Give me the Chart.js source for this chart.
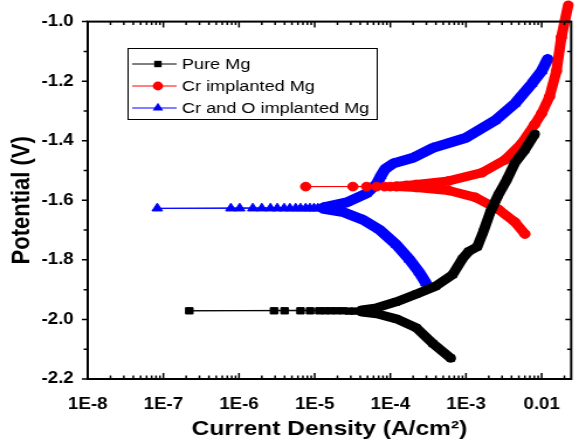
<!DOCTYPE html>
<html>
<head>
<meta charset="utf-8">
<script src="https://cdn.jsdelivr.net/npm/chart.js@4.4.0/dist/chart.umd.min.js"></script>
<style>
  html, body { margin: 0; padding: 0; background: #fff; overflow: hidden; }
  /* the source figure is stretched sideways, so the whole canvas is too */
  #wrap { width: 495px; height: 445px; transform: scaleX(1.1697); transform-origin: 0 0; }
</style>
</head>
<body>
<div id="wrap"><canvas id="tafel" width="495" height="445"></canvas></div>
<script>
// axis ticks
const decadeTicks = [1e-8, 1e-7, 1e-6, 1e-5, 1e-4, 1e-3, 1e-2];
const decadeLabels = ['1E-8', '1E-7', '1E-6', '1E-5', '1E-4', '1E-3', '0.01'];
const potentialTicks = [-2.2, -2.0, -1.8, -1.6, -1.4, -1.2, -1.0];

const seriesNames = ['Pure Mg', 'Cr implanted Mg', 'Cr and O implanted Mg'];

// Pure Mg: cathodic branch, points near Ecorr, anodic branch
const pureCathI = [6.3e-4, 3.65e-4, 2.2e-4, 1.2e-4, 6.6e-5, 4.2e-5];
const pureCathE = [-2.130, -2.081, -2.028, -1.998, -1.981, -1.975];
const pureEcorrI = [3.38e-5, 2.83e-5, 2.36e-5, 1.97e-5, 1.64e-5, 1.37e-5, 1.15e-5, 8.7e-6, 6.5e-6, 4.0e-6, 2.9e-6, 2.2e-7];
const pureEcorrE = [-1.972, -1.972, -1.971, -1.971, -1.971, -1.971, -1.971, -1.971, -1.971, -1.971, -1.971, -1.971];
const pureAnodI = [4.2e-5, 6.6e-5, 1.2e-4, 2.2e-4, 4.0e-4, 6.7e-4, 9.0e-4, 1.08e-3, 1.41e-3, 1.69e-3, 2.09e-3, 2.66e-3, 3.48e-3, 4.44e-3, 6.0e-3, 8.1e-3];
const pureAnodE = [-1.968, -1.961, -1.941, -1.915, -1.888, -1.849, -1.796, -1.772, -1.756, -1.706, -1.640, -1.583, -1.530, -1.474, -1.431, -1.378];

// Cr implanted Mg
const crCathI = [6.0e-3, 4.44e-3, 2.66e-3, 1.33e-3, 5.9e-4, 2.2e-4, 1.2e-4];
const crCathE = [-1.713, -1.673, -1.630, -1.590, -1.567, -1.557, -1.554];
const crEcorrI = [1.0e-4, 8.4e-5, 6.6e-5, 4.85e-5, 3.2e-5, 7.6e-6];
const crEcorrE = [-1.554, -1.554, -1.554, -1.554, -1.554, -1.554];
const crAnodI = [1.2e-4, 1.62e-4, 2.2e-4, 5.9e-4, 1.64e-3, 3.28e-3, 5.48e-3, 8.1e-3, 1.0e-2, 1.27e-2, 1.57e-2, 1.82e-2, 2.25e-2];
const crAnodE = [-1.553, -1.550, -1.547, -1.535, -1.507, -1.464, -1.408, -1.345, -1.308, -1.252, -1.166, -1.053, -0.944];

// Cr and O implanted Mg
const croCathI = [2.96e-4, 2.41e-4, 1.79e-4, 1.2e-4, 7.2e-5, 4.4e-5, 2.41e-5, 1.32e-5];
const croCathE = [-1.878, -1.842, -1.799, -1.749, -1.699, -1.666, -1.640, -1.629];
const croEcorrI = [1.1e-5, 9.8e-6, 8.65e-6, 7.6e-6, 6.5e-6, 5.6e-6, 4.7e-6, 3.95e-6, 3.2e-6, 2.6e-6, 2.0e-6, 1.52e-6, 1.02e-6, 7.8e-7, 8.3e-8];
const croEcorrE = [-1.627, -1.627, -1.627, -1.627, -1.627, -1.627, -1.627, -1.627, -1.627, -1.627, -1.627, -1.627, -1.627, -1.627, -1.627];
const croAnodI = [1.32e-5, 2.66e-5, 4.85e-5, 6.6e-5, 7.5e-5, 8.6e-5, 1.1e-4, 2.0e-4, 3.65e-4, 9.8e-4, 2.43e-3, 4.44e-3, 7.4e-3, 1.0e-2, 1.2e-2];
const croAnodE = [-1.624, -1.607, -1.577, -1.545, -1.518, -1.494, -1.476, -1.457, -1.424, -1.391, -1.332, -1.275, -1.209, -1.166, -1.126];

const tickFont = { family: '"Liberation Sans", Arial, sans-serif', size: 16, weight: 'bold' };

// build one polarization curve; the dense branches are drawn as a thick band
function buildSeries(name, color, style, radius, band, cathI, cathE, ecI, ecE, anI, anE) {
    const data = [];
    const kinds = [];
    cathI.forEach((v, i) => { data.push({ x: v, y: cathE[i] }); kinds.push('band'); });
    ecI.forEach((v, i) => { data.push({ x: v, y: ecE[i] }); kinds.push('mark'); });
    anI.forEach((v, i) => { data.push({ x: v, y: anE[i] }); kinds.push('band'); });
    return {
        label: name,
        data: data,
        borderColor: color,
        backgroundColor: color,
        borderWidth: 1,
        borderCapStyle: 'round',
        borderJoinStyle: 'round',
        tension: 0,
        pointStyle: style,
        pointRadius: radius,
        pointBackgroundColor: color,
        pointBorderColor: color,
        pointBorderWidth: 1,
        clip: false,
        segment: {
            borderWidth: ctx => (kinds[ctx.p0DataIndex] === 'band' && kinds[ctx.p1DataIndex] === 'band') ? band : 1,
        },
    };
}

// box frame with tick marks on all four sides
const framePlugin = {
    id: 'frame',
    afterDatasetsDraw(chart) {
        const { ctx, chartArea: a, scales: { x, y } } = chart;
        ctx.save();
        ctx.strokeStyle = '#000';
        ctx.lineWidth = 2;
        ctx.strokeRect(a.left, a.top, a.right - a.left, a.bottom - a.top);
        ctx.lineWidth = 1.5;
        ctx.beginPath();
        decadeTicks.forEach(d => {
            for (let k = 1; k <= 9; k++) {
                const v = k * d;
                if (v > x.max) break;
                const px = x.getPixelForValue(v);
                const len = k === 1 ? 6 : 3.5;
                ctx.moveTo(px, a.bottom); ctx.lineTo(px, a.bottom - len);
                ctx.moveTo(px, a.top); ctx.lineTo(px, a.top + len);
            }
        });
        potentialTicks.forEach((v, i) => {
            const py = y.getPixelForValue(v);
            ctx.moveTo(a.left, py); ctx.lineTo(a.left - 5, py);
            ctx.moveTo(a.right, py); ctx.lineTo(a.right - 5, py);
            if (i < potentialTicks.length - 1) {
                const pm = y.getPixelForValue((v + potentialTicks[i + 1]) / 2);
                ctx.moveTo(a.left, pm); ctx.lineTo(a.left - 3.5, pm);
                ctx.moveTo(a.right, pm); ctx.lineTo(a.right - 3.5, pm);
            }
        });
        ctx.stroke();
        ctx.restore();
    },
};

function drawMarker(ctx, style, cx, cy, r) {
    ctx.beginPath();
    if (style === 'rect') {
        const s = r * Math.SQRT1_2;
        ctx.rect(cx - s, cy - s, 2 * s, 2 * s);
    } else if (style === 'circle') {
        ctx.arc(cx, cy, r, 0, Math.PI * 2);
    } else {
        ctx.moveTo(cx, cy - r);
        ctx.lineTo(cx + r * 0.866, cy + r * 0.5);
        ctx.lineTo(cx - r * 0.866, cy + r * 0.5);
        ctx.closePath();
    }
    ctx.fill();
}

// boxed legend inside the plot, top left
const legendPlugin = {
    id: 'boxLegend',
    afterDraw(chart) {
        const ctx = chart.ctx;
        ctx.save();
        ctx.fillStyle = '#fff';
        ctx.fillRect(109.5, 48, 213, 71);
        ctx.strokeStyle = '#000';
        ctx.lineWidth = 1;
        ctx.strokeRect(109.5, 48.5, 213, 71);
        chart.data.datasets.forEach((ds, i) => {
            const rowY = 64 + i * 22;
            ctx.strokeStyle = ds.borderColor;
            ctx.lineWidth = 1;
            ctx.beginPath();
            ctx.moveTo(113, rowY);
            ctx.lineTo(151, rowY);
            ctx.stroke();
            ctx.fillStyle = ds.borderColor;
            drawMarker(ctx, ds.pointStyle, 135, rowY, ds.pointRadius);
            ctx.fillStyle = '#000';
            ctx.font = '15.5px "Liberation Sans", Arial, sans-serif';
            ctx.textBaseline = 'middle';
            ctx.fillText(ds.label, 155.5, rowY + 1);
        });
        ctx.restore();
    },
};

const chart = new Chart(document.getElementById('tafel').getContext('2d'), {
    type: 'line',
    data: {
        datasets: [
            buildSeries(seriesNames[0], '#000000', 'rect', 4.5, 9, pureCathI, pureCathE, pureEcorrI, pureEcorrE, pureAnodI, pureAnodE),
            buildSeries(seriesNames[1], '#ff0000', 'circle', 4.4, 9, crCathI, crCathE, crEcorrI, crEcorrE, crAnodI, crAnodE),
            buildSeries(seriesNames[2], '#0000ff', 'triangle', 5.2, 10, croCathI, croCathE, croEcorrI, croEcorrE, croAnodI, croAnodE),
        ],
    },
    options: {
        responsive: false,
        devicePixelRatio: 1,
        animation: false,
        layout: { padding: { top: 17, right: 2, left: 0, bottom: 0 } },
        plugins: {
            legend: { display: false },
            tooltip: { enabled: false },
        },
        scales: {
            x: {
                type: 'logarithmic',
                min: 1e-8,
                max: 0.0246,
                grid: { display: false, drawTicks: false },
                border: { display: false },
                afterBuildTicks: s => { s.ticks = decadeTicks.map(v => ({ value: v })); },
                afterFit: s => { s.height = 66; },
                ticks: {
                    autoSkip: false,
                    maxRotation: 0,
                    padding: 16,
                    color: '#000',
                    font: tickFont,
                    callback: (v, i) => decadeLabels[i],
                },
                title: {
                    display: true,
                    text: 'Current Density (A/cm²)',
                    color: '#000',
                    font: { family: '"Liberation Sans", Arial, sans-serif', size: 21, weight: 'bold' },
                    padding: { top: 0, bottom: 3 },
                },
            },
            y: {
                type: 'linear',
                min: -2.2,
                max: -1.0,
                grid: { display: false, drawTicks: false },
                border: { display: false },
                afterBuildTicks: s => { s.ticks = potentialTicks.map(v => ({ value: v })); },
                afterFit: s => { s.width = 75; },
                ticks: {
                    padding: 12,
                    color: '#000',
                    font: tickFont,
                    callback: (v, i) => potentialTicks[i].toFixed(1),
                },
                title: {
                    display: true,
                    text: 'Potential (V)',
                    color: '#000',
                    font: { family: '"Liberation Sans", Arial, sans-serif', size: 22, weight: 'bold' },
                    padding: { top: 5.5, bottom: 0 },
                },
            },
        },
    },
    plugins: [framePlugin, legendPlugin],
});
</script>
</body>
</html>
